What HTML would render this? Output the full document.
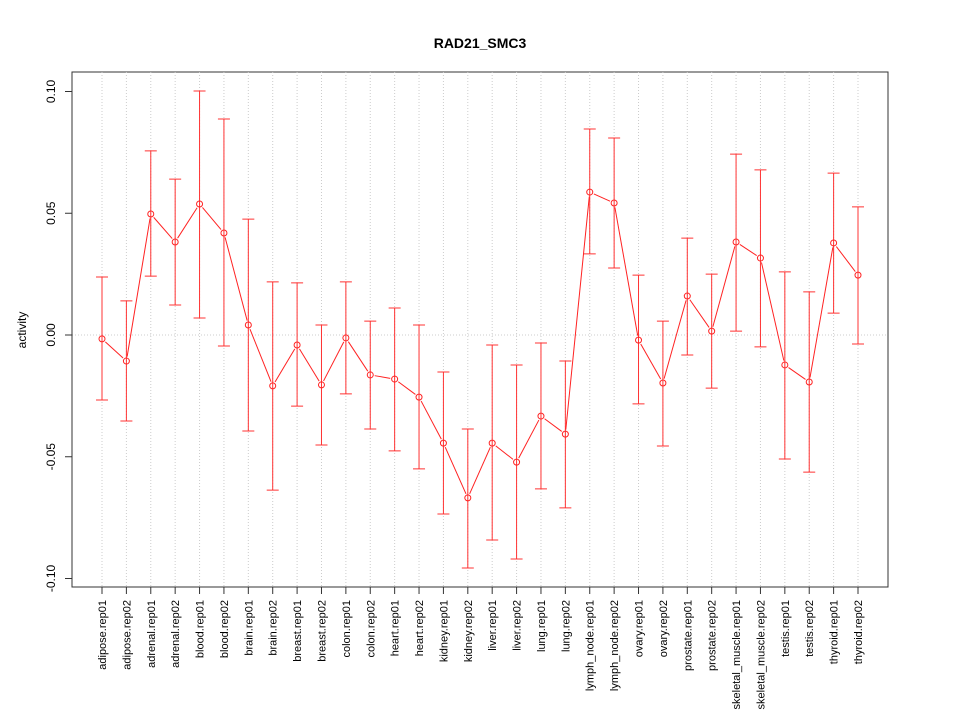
<!DOCTYPE html>
<html><head><meta charset="utf-8"><style>
body{margin:0;background:#fff;}
svg text{font-family:"Liberation Sans",sans-serif;}
</style></head><body>
<svg id="chart" width="960" height="720" xmlns="http://www.w3.org/2000/svg">
<text x="480" y="48" text-anchor="middle" font-size="14" font-weight="bold">RAD21_SMC3</text>
<text x="0" y="0" transform="translate(26,330) rotate(-90)" text-anchor="middle" font-size="12">activity</text>
<rect x="72" y="72" width="816" height="515" fill="none" stroke="#333" stroke-width="1"/>
<g id="grid"></g><g id="axes"></g><g id="marks"></g>
</svg>
<script>
const categories=["adipose.rep01","adipose.rep02","adrenal.rep01","adrenal.rep02","blood.rep01","blood.rep02","brain.rep01","brain.rep02","breast.rep01","breast.rep02","colon.rep01","colon.rep02","heart.rep01","heart.rep02","kidney.rep01","kidney.rep02","liver.rep01","liver.rep02","lung.rep01","lung.rep02","lymph_node.rep01","lymph_node.rep02","ovary.rep01","ovary.rep02","prostate.rep01","prostate.rep02","skeletal_muscle.rep01","skeletal_muscle.rep02","testis.rep01","testis.rep02","thyroid.rep01","thyroid.rep02"];
const values=[-0.0016,-0.0107,0.0497,0.0382,0.0538,0.0419,0.0041,-0.0209,-0.0041,-0.0205,-0.0012,-0.0164,-0.0181,-0.0255,-0.0444,-0.0669,-0.0444,-0.0522,-0.0333,-0.0407,0.0587,0.0542,-0.0021,-0.0197,0.016,0.0016,0.0382,0.0316,-0.0123,-0.0193,0.0378,0.0246];
const upper=[0.0238,0.014,0.0756,0.064,0.1002,0.0887,0.0476,0.0218,0.0214,0.0041,0.0218,0.0057,0.0111,0.0041,-0.0152,-0.0386,-0.0041,-0.0123,-0.0033,-0.0107,0.0846,0.0809,0.0246,0.0057,0.0398,0.025,0.0743,0.0678,0.0259,0.0177,0.0665,0.0526];
const lower=[-0.0267,-0.0353,0.0242,0.0123,0.007,-0.0045,-0.0394,-0.0637,-0.0292,-0.0452,-0.0242,-0.0386,-0.0476,-0.055,-0.0735,-0.0957,-0.0842,-0.092,-0.0632,-0.071,0.0333,0.0275,-0.0283,-0.0456,-0.0082,-0.0218,0.0016,-0.0049,-0.0509,-0.0563,0.009,-0.0037];
const yTicks=[-0.1,-0.05,0,0.05,0.1];
const yTickLabels=["-0.10","-0.05","0.00","0.05","0.10"];

const NS="http://www.w3.org/2000/svg";
const xS=i=>102+i*(858-102)/(categories.length-1);
const yS=v=>335-v*2435;
function mk(tag,attrs,parent){const e=document.createElementNS(NS,tag);for(const k in attrs)e.setAttribute(k,attrs[k]);parent.appendChild(e);return e;}
const grid=document.getElementById('grid'),axes=document.getElementById('axes'),marks=document.getElementById('marks');
categories.forEach((c,i)=>{
  const g=mk('line',{x1:xS(i),x2:xS(i),y1:72,y2:587,stroke:'#ccc','stroke-dasharray':'1,2'},grid);
  
  
  const t=mk('line',{x1:xS(i),x2:xS(i),y1:587,y2:594,stroke:'#333'},axes);
  
  
  const l=mk('text',{x:0,y:0,transform:`translate(${xS(i)+4},600) rotate(-90)`,'text-anchor':'end','font-size':'11'},axes);
  l.textContent=c;
  
  
});
const zl=mk('line',{x1:72,x2:888,y1:yS(0),y2:yS(0),stroke:'#ccc','stroke-dasharray':'1,2'},grid);


const ya=mk('line',{x1:72,x2:72,y1:yS(yTicks[yTicks.length-1]),y2:yS(yTicks[0]),stroke:'#333'},axes);


yTicks.forEach((v,i)=>{
  const t=mk('line',{x1:65,x2:72,y1:yS(v),y2:yS(v),stroke:'#333'},axes);
  
  
  const l=mk('text',{x:0,y:0,transform:`translate(55,${yS(v)}) rotate(-90)`,'text-anchor':'middle','font-size':'12'},axes);
  l.textContent=yTickLabels[i];
  
  
});
values.forEach((v,i)=>{
  const x=xS(i);
  const eb=mk('path',{d:`M${x},${yS(upper[i])}V${yS(lower[i])}M${x-6},${yS(upper[i])}H${x+6}M${x-6},${yS(lower[i])}H${x+6}`,stroke:'#f33',fill:'none','stroke-width':1},marks);
  
  
});
const pts=values.map((v,i)=>[xS(i),yS(v)]);
for(let i=0;i<pts.length-1;i++){
  const [x1,y1]=pts[i],[x2,y2]=pts[i+1];const dx=x2-x1,dy=y2-y1,d=Math.hypot(dx,dy),r=4.5;
  if(d<2*r)continue;
  const s=mk('line',{x1:x1+dx/d*r,y1:y1+dy/d*r,x2:x2-dx/d*r,y2:y2-dy/d*r,stroke:'#f22'},marks);
  
  
}
pts.forEach(([x,y])=>{
  const c=mk('circle',{cx:x,cy:y,r:3,fill:'none',stroke:'#f22'},marks);
  
  
});
</script>
</body></html>
